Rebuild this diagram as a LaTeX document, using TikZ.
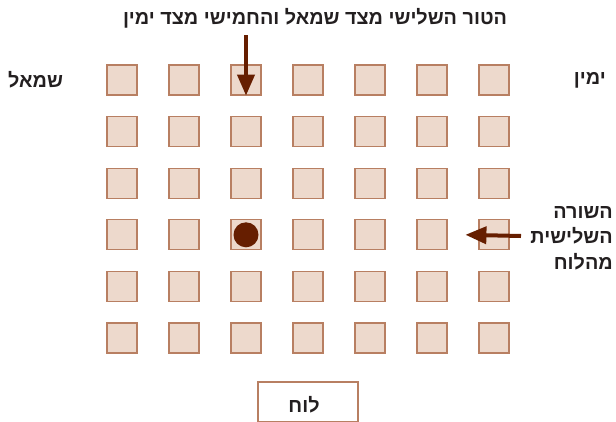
\documentclass[tikz,border=0pt]{standalone}
\usepackage{fontspec}
\setmainfont{Liberation Sans}
\newfontfamily\heb[Script=Hebrew]{Liberation Sans Bold}
\TeXXeTstate=1
\usetikzlibrary{arrows.meta}
\definecolor{sqfill}{HTML}{EDD9CC}
\definecolor{sqdraw}{HTML}{B87F62}
\definecolor{arr}{HTML}{661E00}
\definecolor{txt}{HTML}{231F20}
\begin{document}
\begin{tikzpicture}[x=1pt,y=-1pt,
  cell/.style={draw=sqdraw,fill=sqfill,line width=1.2pt,minimum size=30pt,inner sep=0pt},
  lbl/.style={font=\heb\fontsize{19.8}{25.5}\selectfont,text=txt,inner sep=0pt},
  bigarrow/.style={draw=arr,line width=4pt,-{Triangle[length=21pt,width=17pt]}},
  board/.style={draw=sqdraw,line width=1.2pt,minimum width=100pt,minimum height=40pt,inner sep=0pt}]
\useasboundingbox (0,0) rectangle (616,421);
\foreach \c in {0,...,6}{
  \foreach \r in {0,...,5}{
    \node[cell] (s\c\r) at ({122+62*\c},{80+51.6*\r}) {};
  }
}
\fill[arr] (s23) circle (12.5pt);
\node[lbl] (top) at (315,18) {\beginR הטור השלישי מצד שמאל והחמישי מצד ימין\endR};
\node[lbl,anchor=west] (left) at (8,80) {\beginR שמאל\endR};
\node[lbl,anchor=east] (right) at (606,80) {\beginR ימין\endR};
\node[lbl,align=right,anchor=east] (rowlbl) at (613,238) {\beginR השורה\endR\\\beginR השלישית\endR\\\beginR מהלוח\endR};
\node[board] (lu) at (308,402) {};
\node[lbl] (lutxt) at (304,405) {\beginR לוח\endR};
\coordinate (ta) at (246,35);
\coordinate (ra) at (521,236);
\draw[bigarrow] (ta) -- (s20.south);
\draw[bigarrow] (ra) -- ([xshift=-13pt]s63.west);
\end{tikzpicture}
\end{document}
